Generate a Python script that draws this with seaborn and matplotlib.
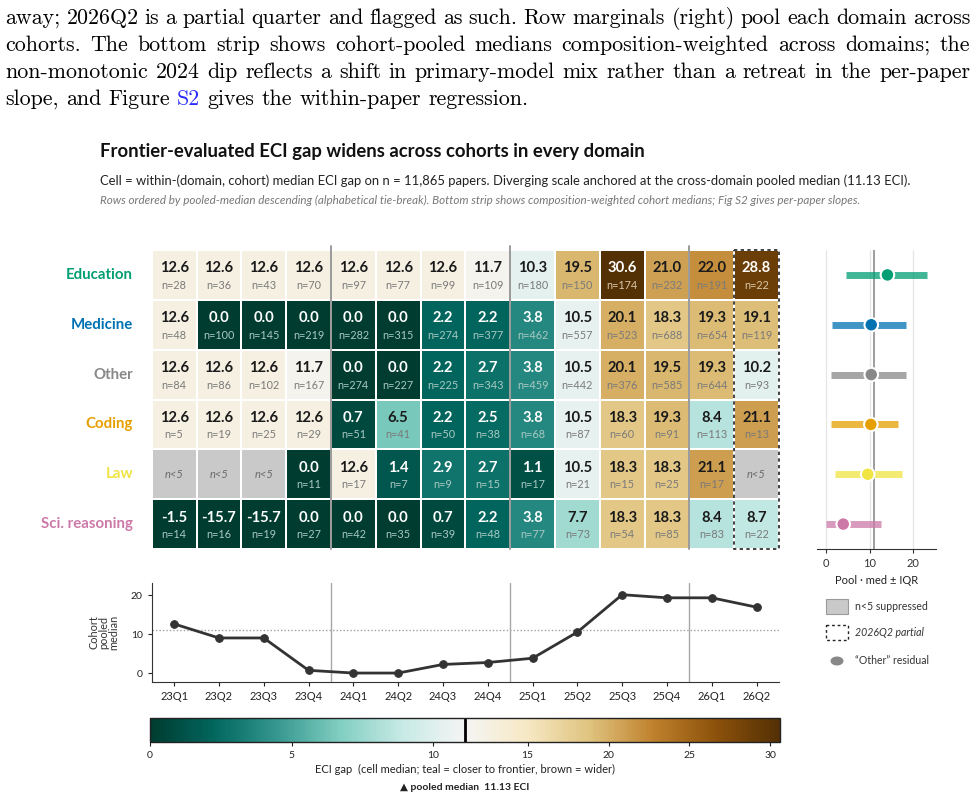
import numpy as np
import pandas as pd
import seaborn as sns
import matplotlib
matplotlib.use("Agg")
import matplotlib.pyplot as plt
from matplotlib.colors import TwoSlopeNorm, ListedColormap
from matplotlib.patches import Rectangle, Ellipse
from matplotlib.cm import ScalarMappable

# ---- data ----
cohorts = ["23Q1", "23Q2", "23Q3", "23Q4", "24Q1", "24Q2", "24Q3", "24Q4",
           "25Q1", "25Q2", "25Q3", "25Q4", "26Q1", "26Q2"]
domains = ["Education", "Medicine", "Other", "Coding", "Law", "Sci. reasoning"]
dom_colors = ["#009E73", "#0072B2", "#888888", "#E69F00", "#F0E442", "#CC79A7"]
nan = np.nan

gap_education = [12.6, 12.6, 12.6, 12.6, 12.6, 12.6, 12.6, 11.7, 10.3, 19.5, 30.6, 21.0, 22.0, 28.8]
gap_medicine = [12.6, 0.0, 0.0, 0.0, 0.0, 0.0, 2.2, 2.2, 3.8, 10.5, 20.1, 18.3, 19.3, 19.1]
gap_other = [12.6, 12.6, 12.6, 11.7, 0.0, 0.0, 2.2, 2.7, 3.8, 10.5, 20.1, 19.5, 19.3, 10.2]
gap_coding = [12.6, 12.6, 12.6, 12.6, 0.7, 6.5, 2.2, 2.5, 3.8, 10.5, 18.3, 19.3, 8.4, 21.1]
gap_law = [nan, nan, nan, 0.0, 12.6, 1.4, 2.9, 2.7, 1.1, 10.5, 18.3, 18.3, 21.1, nan]
gap_sci = [-1.5, -15.7, -15.7, 0.0, 0.0, 0.0, 0.7, 2.2, 3.8, 7.7, 18.3, 18.3, 8.4, 8.7]

n_education = [28, 36, 43, 70, 97, 77, 99, 109, 180, 150, 174, 232, 191, 22]
n_medicine = [48, 100, 145, 219, 282, 315, 274, 377, 462, 557, 523, 688, 654, 119]
n_other = [84, 86, 102, 167, 274, 227, 225, 343, 459, 442, 376, 585, 644, 93]
n_coding = [5, 19, 25, 29, 51, 41, 50, 38, 68, 87, 60, 91, 113, 13]
n_law = [nan, nan, nan, 11, 17, 7, 9, 15, 17, 21, 15, 25, 17, nan]
n_sci = [14, 16, 19, 27, 42, 35, 39, 48, 77, 73, 54, 85, 83, 22]

pool_med = [14.1, 10.4, 10.4, 10.3, 9.6, 4.0]
pool_q1 = [4.6, 1.4, 1.1, 1.1, 2.1, 0.0]
pool_q3 = [23.2, 18.3, 18.3, 16.5, 17.4, 12.6]

cohort_pooled = [12.6, 9.0, 9.0, 0.7, 0.0, 0.0, 2.2, 2.7, 3.8, 10.5, 20.1, 19.3, 19.3, 16.9]
pooled_median = 11.13

gap = pd.DataFrame([gap_education, gap_medicine, gap_other, gap_coding, gap_law, gap_sci],
                   index=domains, columns=cohorts)
ncount = pd.DataFrame([n_education, n_medicine, n_other, n_coding, n_law, n_sci],
                      index=domains, columns=cohorts)
suppressed = gap.isna()

# ---- style ----
sns.set_style("white")
plt.rcParams["font.family"] = ["Lato", "DejaVu Sans"]

W, H = 977, 799
fig = plt.figure(figsize=(W / 100, H / 100), dpi=100)


def px_axes(x0, y0, x1, y1):
    return fig.add_axes([x0 / W, 1 - y1 / H, (x1 - x0) / W, (y1 - y0) / H])


# ---- paragraph above the figure (justified) ----
para = [
    ("away; 2026Q2 is a partial quarter and flagged as such. Row marginals (right) pool each domain across", True),
    ("cohorts. The bottom strip shows cohort-pooled medians composition-weighted across domains; the", True),
    ("non-monotonic 2024 dip reflects a shift in primary-model mix rather than a retreat in the per-paper", True),
    ("slope, and Figure S2 gives the within-paper regression.", False),
]
renderer = fig.canvas.get_renderer()
serif = ["cmr10", "DejaVu Serif"]
probe = fig.text(0, 0, para[3][0], fontsize=14, family=serif)
psize = 14 * 522 / probe.get_window_extent(renderer).width
probe.remove()
baselines = [24, 51, 78, 105]
for (line, just), yb in zip(para, baselines):
    words = line.split(" ")
    arts = []
    for w in words:
        col = "#2b2bff" if w == "S2" else "black"
        arts.append(fig.text(0, 1 - yb / H, w, fontsize=psize, family=serif, color=col, va="baseline"))
    widths = [a.get_window_extent(renderer).width for a in arts]
    sp = fig.text(0, 0, "a b", fontsize=psize, family=serif)
    sp2 = fig.text(0, 0, "ab", fontsize=psize, family=serif)
    space = sp.get_window_extent(renderer).width - sp2.get_window_extent(renderer).width
    sp.remove(); sp2.remove()
    gapw = (970 - 5 - sum(widths)) / (len(words) - 1) if just else space
    x = 5
    for a, w in zip(arts, widths):
        a.set_x(x / W)
        x += w + gapw

# ---- title block ----
fig.text(100 / W, 1 - 152 / H, "Frontier-evaluated ECI gap widens across cohorts in every domain",
         fontsize=13.3, fontweight="bold", color="#111111", va="center")
fig.text(100 / W, 1 - 181 / H,
         "Cell = within-(domain, cohort) median ECI gap on n = 11,865 papers. Diverging scale anchored at the "
         "cross-domain pooled median (11.13 ECI).", fontsize=9.4, color="#222222", va="center")
fig.text(100 / W, 1 - 200 / H,
         "Rows ordered by pooled-median descending (alphabetical tie-break). Bottom strip shows "
         "composition-weighted cohort medians; Fig S2 gives per-paper slopes.",
         fontsize=8.35, color="#777777", style="italic", va="center")

# ---- heatmap ----
cmap = plt.get_cmap("BrBG_r")
norm = TwoSlopeNorm(vmin=0, vcenter=pooled_median, vmax=30.6)
ax = px_axes(151.7, 250, 779, 549)
sns.heatmap(suppressed.astype(float), mask=~suppressed, cmap=ListedColormap(["#c9c9c9"]),
            cbar=False, linewidths=1.4, linecolor="white", xticklabels=False, yticklabels=False, ax=ax)
sns.heatmap(gap, mask=suppressed, cmap=cmap, norm=norm, cbar=False, linewidths=1.4,
            linecolor="white", xticklabels=False, yticklabels=False, ax=ax)

for i, d in enumerate(domains):
    ax.text(-0.42, i + 0.5, d, ha="right", va="center", fontsize=10.8, fontweight="bold",
            color=dom_colors[i])
    for j, c in enumerate(cohorts):
        v = gap.loc[d, c]
        if np.isnan(v):
            ax.text(j + 0.5, i + 0.5, "n<5", ha="center", va="center", fontsize=8,
                    style="italic", color="#6a6a6a")
            continue
        t = float(norm(v))
        dark = t < 0.25 or t > 0.85
        vc = "white" if dark else "#1a1a1a"
        if dark:
            nc = "#d9c7a8" if t > 0.5 else "#a9c9c3"
        else:
            nc = "#7a7a7a"
        ax.text(j + 0.5, i + 0.37, f"{v:.1f}", ha="center", va="center", fontsize=10.6,
                fontweight="bold", color=vc)
        ax.text(j + 0.5, i + 0.71, f"n={int(ncount.loc[d, c])}", ha="center", va="center",
                fontsize=7.8, color=nc)

for xb in [4, 8, 12]:
    ax.plot([xb, xb], [-0.08, 6], color="#9a9a9a", lw=1.4, clip_on=False, zorder=5)
ax.add_patch(Rectangle((13, 0), 1, 6, fill=False, ec="#222222", lw=1.2, ls=(0, (2, 2)),
                       clip_on=False, zorder=6))

# ---- marginal (right) ----
axm = px_axes(817, 250, 936, 549)
ypos = np.arange(len(domains)) + 0.5
for i in range(len(domains)):
    axm.plot([pool_q1[i], pool_q3[i]], [ypos[i], ypos[i]], color=dom_colors[i], lw=5,
             alpha=0.75, solid_capstyle="butt", zorder=2)
marg = pd.DataFrame({"med": pool_med, "y": ypos, "dom": domains})
sns.scatterplot(data=marg, x="med", y="y", hue="dom", palette=dom_colors, s=95,
                edgecolor="white", linewidth=1.5, legend=False, zorder=3, ax=axm)
axm.axvline(pooled_median, color="#8c8c8c", lw=1.2, zorder=1)
for g in [0, 10, 20]:
    axm.axvline(g, color="#e6e6e6", lw=0.9, zorder=0)
axm.set_xlim(-2, 25.2)
axm.set_ylim(6, 0)
axm.set_xticks([0, 10, 20])
axm.set_yticks([])
axm.set_ylabel("")
axm.set_xlabel("Pool · med ± IQR", fontsize=8, color="#222222", labelpad=4)
axm.tick_params(axis="x", labelsize=8, length=3, colors="#333333", bottom=True)
for s in ["left", "right", "top"]:
    axm.spines[s].set_visible(False)
axm.spines["bottom"].set_color("#333333")

# ---- legend (right, below marginal) ----
axl = px_axes(818, 590, 977, 675)
axl.set_xlim(818, 977)
axl.set_ylim(675, 590)
axl.axis("off")
axl.add_patch(Rectangle((826, 599), 22, 15, fc="#c9c9c9", ec="#9a9a9a", lw=0.8))
axl.text(855, 606.5, "n<5 suppressed", fontsize=7.6, color="#333333", va="center")
axl.add_patch(Rectangle((826, 625), 22, 15, fc="white", ec="#222222", lw=1, ls=(0, (2, 2))))
axl.text(855, 632.5, "2026Q2 partial", fontsize=7.6, color="#333333", va="center", style="italic")
axl.add_patch(Ellipse((837, 661), 13, 9, fc="#888888", ec="none"))
axl.text(855, 661, "\u201cOther\u201d residual", fontsize=7.6, color="#333333", va="center")

# ---- bottom strip: cohort-pooled median ----
axs = px_axes(151.7, 583, 779, 682)
strip = pd.DataFrame({"x": np.arange(len(cohorts)), "v": cohort_pooled})
sns.lineplot(data=strip, x="x", y="v", color="#333333", lw=2, marker="o", markersize=5.5,
             markeredgecolor="#333333", ax=axs)
axs.axhline(pooled_median, color="#a0a0a0", lw=1, ls=(0, (1, 1.5)), zorder=0)
for xb in [3.5, 7.5, 11.5]:
    axs.axvline(xb, color="#a8a8a8", lw=1, zorder=0)
axs.set_xlim(-0.5, 13.5)
axs.set_ylim(-2.3, 23.1)
axs.set_xticks(np.arange(len(cohorts)))
axs.set_xticklabels(cohorts)
axs.set_yticks([0, 10, 20])
axs.tick_params(axis="x", labelsize=8, length=3, colors="#222222", bottom=True)
axs.tick_params(axis="y", labelsize=7.5, length=3, colors="#222222", left=True)
axs.set_xlabel("")
axs.set_ylabel("Cohort\npooled\nmedian", fontsize=7.8, color="#333333", linespacing=0.9, labelpad=8)
sns.despine(ax=axs)
axs.spines["left"].set_color("#333333")
axs.spines["bottom"].set_color("#333333")

# ---- colorbar ----
cax = px_axes(150, 718, 780, 742)
sm = ScalarMappable(norm=norm, cmap=cmap)
cb = fig.colorbar(sm, cax=cax, orientation="horizontal")
cb.set_ticks([0, 5, 10, 15, 20, 25, 30])
cb.ax.tick_params(labelsize=7.5, length=3, colors="#222222")
cb.outline.set_edgecolor("#222222")
cb.outline.set_linewidth(1)
cb.ax.axvline(pooled_median, color="black", lw=2)
cb.set_label("ECI gap  (cell median; teal = closer to frontier, brown = wider)", fontsize=8,
             color="#222222", labelpad=3)
fig.text(465 / W, 1 - 787 / H, "\u25b2 pooled median  11.13 ECI", fontsize=7.5,
         fontweight="bold", color="#222222", ha="center", va="center",
         family=["Lato", "DejaVu Sans"])

fig.savefig("out.png", dpi=100)
